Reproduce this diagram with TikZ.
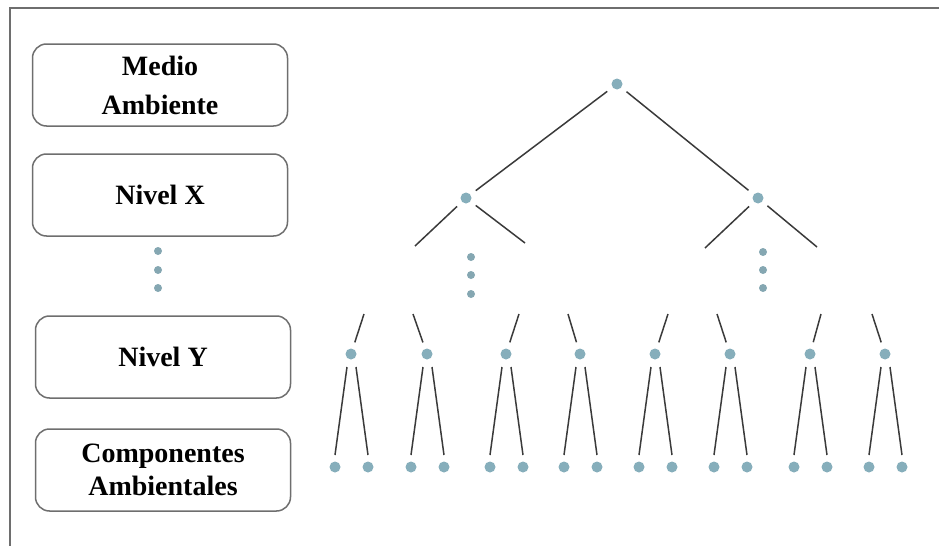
\documentclass[tikz,border=0pt]{standalone}
\usepackage{fontspec}
\setmainfont{Liberation Serif}
\usetikzlibrary{calc}
\definecolor{cdot}{HTML}{86AEBB}
\definecolor{cline}{HTML}{3A3A3A}
\definecolor{cframe}{HTML}{6E6E6E}
\tikzset{
  every picture/.style={line width=0.75pt},
  levelbox/.style={draw=cframe, rounded corners=7pt, minimum width=127.5pt, minimum height=41pt,
    align=center, font=\bfseries\fontsize{14}{16.5}\selectfont},
  tnode/.style={circle, fill=cdot, inner sep=0pt, minimum size=5.5pt},
  ellip/.style={circle, fill=cdot!85!gray, inner sep=0pt, minimum size=4pt},
  branch/.style={draw=cline, shorten <=3pt, shorten >=3pt},
  stub/.style={draw=cline, shorten <=3pt},
}

\begin{document}
\begin{tikzpicture}[x=0.5pt, y=-0.5pt]
  \useasboundingbox (0,0) rectangle (939,546);
  % frame, top and left sides
  \draw[cframe, line width=0.8pt] (939,8) -- (10,8) -- (10,546);
  % levels on the left
  \node[levelbox] (ma) at (160,85) {Medio\\[3pt]Ambiente};
  \node[levelbox] (nx) at (160,195) {Nivel X};
  \node[levelbox] (ny) at (163,357) {Nivel Y};
  \node[levelbox] (ca) at (163,470) {Componentes\\Ambientales};
  \foreach \y in {251,270,288} \node[ellip] at (158,\y) {};
  % upper part of the tree
  \node[tnode] (r) at (617,84) {};
  \node[tnode] (a1) at (466,198) {};
  \node[tnode] (a2) at (758,198) {};
  \draw[branch] (r) -- (a1);
  \draw[branch] (r) -- (a2);
  \coordinate (a1l) at (415,246);
  \coordinate (a1r) at (525,243);
  \coordinate (a2l) at (705,248);
  \coordinate (a2r) at (817,247);
  \foreach \n/\e in {a1/a1l, a1/a1r, a2/a2l, a2/a2r} \draw[stub] (\n) -- (\e);
  \foreach \y in {257,275,294} \node[ellip] at (471,\y) {};
  \foreach \y in {252,270,288} \node[ellip] at (763,\y) {};
  % lower part: level Y nodes and their two leaves
  \foreach \i/\x/\s in {1/351/13, 2/427/-14, 3/506/13, 4/580/-12, 5/655/13, 6/730/-13, 7/810/11, 8/885/-13} {
    \node[tnode] (y\i) at (\x,354) {};
    \coordinate (s\i) at (\x+\s,314);
    \draw[stub] (y\i) -- (s\i);
    \node[tnode] (la\i) at (\x-16,467) {};
    \node[tnode] (lb\i) at (\x+17,467) {};
    \draw[cline] ($(y\i)+(-4,13)$) -- ($(la\i)+(0,-12)$);
    \draw[cline] ($(y\i)+(5,13)$) -- ($(lb\i)+(0,-12)$);
  }
\end{tikzpicture}
\end{document}
